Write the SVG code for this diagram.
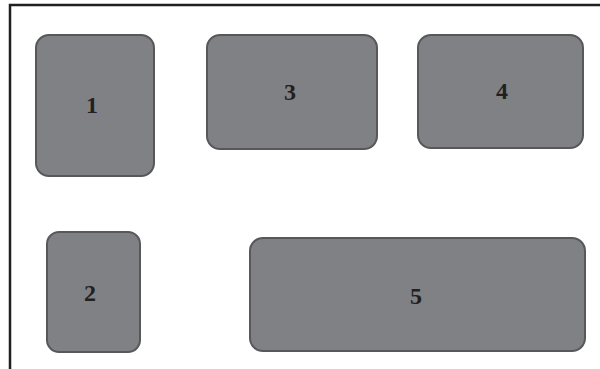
<svg xmlns="http://www.w3.org/2000/svg" width="600" height="369" viewBox="0 0 600 369">
<style>
.box{fill:#808184;stroke:#58585a;stroke-width:2}
.lbl{font-family:"Liberation Serif","DejaVu Serif",serif;font-weight:bold;font-size:24px;fill:#231f20;text-anchor:middle}
.frame{fill:none;stroke:#231f20;stroke-width:2.5}
</style>
<rect width="600" height="369" fill="#ffffff"/>
<path class="frame" d="M600,5 H10 V369"/>
<g id="node1"><rect class="box" x="36" y="35" width="118" height="141" rx="13"/><text class="lbl" x="92" y="113">1</text></g>
<g id="node2"><rect class="box" x="47" y="232" width="93" height="120" rx="12"/><text class="lbl" x="90" y="301">2</text></g>
<g id="node3"><rect class="box" x="207" y="35" width="170" height="114" rx="13"/><text class="lbl" x="290" y="99.5">3</text></g>
<g id="node4"><rect class="box" x="418" y="35" width="165" height="113" rx="13"/><text class="lbl" x="502" y="99">4</text></g>
<g id="node5"><rect class="box" x="250" y="238" width="335" height="113" rx="13"/><text class="lbl" x="416" y="304">5</text></g>
<g id="connectors"></g>
</svg>
